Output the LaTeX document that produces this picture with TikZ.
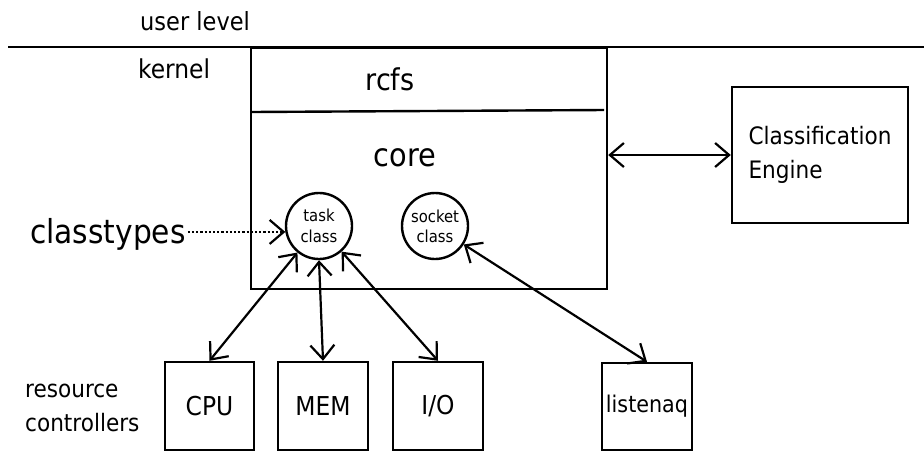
\documentclass[tikz,border=0pt]{standalone}
\usepackage{fontspec}
\setmainfont{DejaVu Sans Condensed}
\usetikzlibrary{arrows.meta}
\tikzset{
  ln/.style={line width=2.4pt},
  tip/.tip={Straight Barb[length=14pt,width=24pt,line width=2.2pt]},
  boxn/.style={draw,ln,inner sep=0pt,minimum width=#1},
  cls/.style={draw,ln,circle,inner sep=0pt,minimum size=66pt,align=center,font=\fontsize{16.5}{21}\selectfont},
  harrow/.style={line width=2.2pt,tip-tip},
  lbl/.style={inner sep=0pt},
}
\begin{document}
\begin{tikzpicture}[x=1pt,y=-1pt]
\useasboundingbox (0,0) rectangle (924,451);
% user/kernel boundary
\coordinate (hl) at (8,47);
\coordinate (hr) at (924,47);
\draw[ln] (hl) -- (hr);
\node[lbl,anchor=base west,font=\fontsize{25}{30}\selectfont] (user) at (140,30) {user level};
\node[lbl,anchor=base west,font=\fontsize{26}{30}\selectfont] (kern) at (138,78) {kernel};
% kernel box
\node[boxn=356pt,minimum height=241pt] (kbox) at (429,168.5) {};
\coordinate (il) at (251,112);
\coordinate (ir) at (604,110);
\draw[ln] (il) -- (ir);
\node[lbl,anchor=base,font=\fontsize{30}{34}\selectfont] (rcfs) at (390,90) {rcfs};
\node[lbl,anchor=base,font=\fontsize{32}{36}\selectfont] (core) at (405,166) {core};
% classes
\node[cls] (task) at (319,226) {task\\class};
\node[cls,font=\fontsize{16.5}{20}\selectfont] (sock) at (435,226) {socket\\class};
\node[lbl,anchor=base west,font=\fontsize{33}{36}\selectfont] (ctypes) at (30,243) {classtypes};
\draw[line width=2.2pt,dotted,-tip] (ctypes.east |- task.190) ++(2,0) -- (task.190);
% classification engine
\node[boxn=176pt,minimum height=136pt,align=left,font=\fontsize{24}{34}\selectfont] (ce) at (820,155) {Classification\\Engine};
\draw[harrow] (kbox.east |- ce.west) -- (ce.west);
% resource controllers
\node[lbl,anchor=base west,font=\fontsize{24}{30}\selectfont] (rc1) at (25,397) {resource};
\node[lbl,anchor=base west,font=\fontsize{24}{30}\selectfont] (rc2) at (25,431) {controllers};
\node[boxn=89pt,minimum height=88pt,font=\fontsize{26}{30}\selectfont] (cpu) at (209.5,406) {CPU};
\node[boxn=90pt,minimum height=88pt,font=\fontsize{26}{30}\selectfont] (mem) at (323,406) {MEM};
\node[boxn=90pt,minimum height=88pt,font=\fontsize{26}{30}\selectfont] (io) at (438,406) {I/O};
\node[boxn=90pt,minimum height=87pt,font=\fontsize{23}{30}\selectfont] (lq) at (647,406.5) {listenaq};
\draw[harrow] (task) -- (cpu.north);
\draw[harrow] (task.south) -- (mem.north);
\draw[harrow] (task) -- (io.north);
\draw[harrow] (sock) -- (lq.north);
\end{tikzpicture}
\end{document}
